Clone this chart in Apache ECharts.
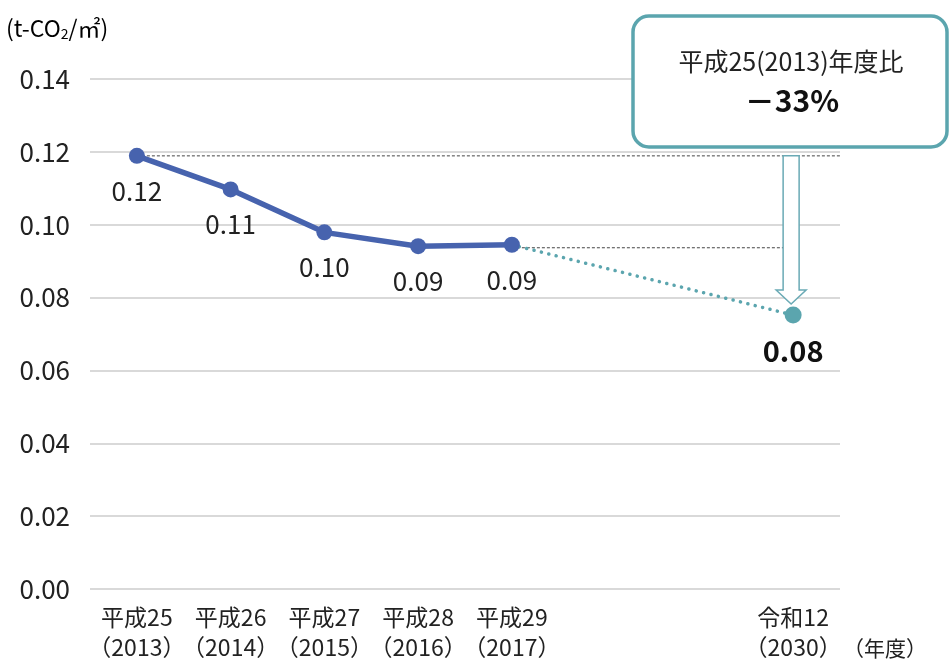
<!DOCTYPE html>
<html>
<head>
<meta charset="utf-8">
<script src="https://cdn.jsdelivr.net/npm/echarts@6/dist/echarts.min.js"></script>
<style>
  html, body { margin: 0; padding: 0; background: #fff; }
  #chart { width: 949px; height: 662px; }
</style>
</head>
<body>
<div id="chart"></div>
<script>
// Fiscal years (era name + western year); two empty slots keep the gap before 2030
const eraNames = ['平成25', '平成26', '平成27', '平成28', '平成29', '', '', '令和12'];
const westernYears = ['2013', '2014', '2015', '2016', '2017', '', '', '2030'];

// Emission intensity per floor area (t-CO2/m²)
const actualValues = [0.1189, 0.1097, 0.0979, 0.0941, 0.0945, null, null, null];
const targetValue = 0.0752;

// Value axis ticks
const yMin = 0, yMax = 0.14, yStep = 0.02;

const noteLine1 = '平成25(2013)年度比';
const noteLine2 = '－33%';
const unitLabel = ['(t-CO', '2', '/㎡)'];
const yearUnit = '（年度）';

const FONT = "'Noto Sans CJK JP', sans-serif";
const BLUE = '#4763ae';
const TEAL = '#5ba5ae';

const categories = eraNames.map((e, i) => e ? e + '\n（' + westernYears[i] + '）' : '');
const lastActual = 4;
const targetIndex = categories.length - 1;
const projection = categories.map((_, i) => {
  if (i === lastActual) return { value: actualValues[i], symbol: 'none' };
  if (i === targetIndex) return targetValue;
  return null;
});

const chart = echarts.init(document.getElementById('chart'));
chart.setOption({
  animation: false,
  textStyle: { fontFamily: FONT },
  grid: { left: 90, right: 109, top: 79, bottom: 71 },
  xAxis: {
    type: 'category',
    data: categories,
    boundaryGap: true,
    axisLine: { show: false },
    axisTick: { show: false },
    axisLabel: {
      interval: 0, margin: 13, color: '#222', fontSize: 23, lineHeight: 30,
      fontFamily: FONT
    }
  },
  yAxis: {
    type: 'value',
    min: yMin, max: yMax, interval: yStep,
    axisLine: { show: false },
    axisTick: { show: false },
    splitLine: { lineStyle: { color: '#d9d9d9', width: 2 } },
    axisLabel: {
      margin: 20, color: '#222', fontSize: 26, fontFamily: FONT,
      formatter: v => v.toFixed(2)
    }
  },
  series: [
    {
      type: 'line',
      data: projection,
      connectNulls: true,
      z: 2,
      lineStyle: { color: TEAL, width: 3.5, type: [0.1, 7.5], cap: 'round' },
      itemStyle: { color: TEAL },
      symbol: 'circle',
      symbolSize: 17,
      label: {
        show: true, position: 'bottom', distance: 13,
        color: '#111', fontSize: 29, fontWeight: 'bold', fontFamily: FONT,
        formatter: p => p.dataIndex === targetIndex ? p.value.toFixed(2) : ''
      }
    },
    {
      type: 'line',
      data: actualValues,
      z: 3,
      lineStyle: { color: BLUE, width: 5.5 },
      itemStyle: { color: BLUE },
      symbol: 'circle',
      symbolSize: 16,
      label: {
        show: true, position: 'bottom', distance: 14,
        color: '#222', fontSize: 26, fontFamily: FONT,
        formatter: p => p.value.toFixed(2)
      }
    }
  ]
});

// Reference lines, reduction arrow and notes, placed from the axis scales
const px = (i, v) => chart.convertToPixel({ gridIndex: 0 }, [i, v]);
const base = px(0, actualValues[0]);
const last = px(lastActual, actualValues[lastActual]);
const target = px(targetIndex, targetValue);
const gridRight = 949 - 109;
const ax = target[0] - 2;
const shaftW = 8, headW = 15, headH = 14;
const tipY = target[1] - 11;
const shaftTop = base[1];

chart.setOption({
  graphic: [
    {
      type: 'line', z: 1,
      shape: { x1: base[0], y1: base[1], x2: gridRight, y2: base[1] },
      style: { stroke: '#444', lineWidth: 1, lineDash: [3, 2] }
    },
    {
      type: 'line', z: 1,
      shape: { x1: last[0], y1: last[1] + 3, x2: ax - shaftW, y2: last[1] + 3 },
      style: { stroke: '#444', lineWidth: 1, lineDash: [3, 2] }
    },
    {
      type: 'polygon', z: 5,
      shape: {
        points: [
          [ax - shaftW, shaftTop], [ax + shaftW, shaftTop],
          [ax + shaftW, tipY - headH], [ax + headW, tipY - headH],
          [ax, tipY], [ax - headW, tipY - headH],
          [ax - shaftW, tipY - headH]
        ]
      },
      style: { fill: '#fff', stroke: '#6aaab5', lineWidth: 1.5 }
    },
    {
      type: 'rect', z: 10,
      shape: { x: 633, y: 16, width: 314, height: 131, r: 16 },
      style: { fill: '#fff', stroke: TEAL, lineWidth: 3.5 }
    },
    {
      type: 'text', z: 11,
      style: {
        x: 791, y: 61, text: noteLine1, align: 'center', verticalAlign: 'middle',
        font: '25px ' + FONT, fill: '#222'
      }
    },
    {
      type: 'text', z: 11,
      style: {
        x: 792, y: 101, text: noteLine2, align: 'center', verticalAlign: 'middle',
        font: 'bold 30px ' + FONT, fill: '#111'
      }
    },
    {
      type: 'text', z: 11,
      style: {
        x: 6, y: 28, verticalAlign: 'middle',
        text: '{a|' + unitLabel[0] + '}{s|' + unitLabel[1] + '}{a|' + unitLabel[2] + '}',
        rich: {
          a: { fontSize: 23, fontFamily: FONT, color: '#222' },
          s: { fontSize: 14, fontFamily: FONT, color: '#222', padding: [11, 0, 0, 0] }
        }
      }
    },
    {
      type: 'text', z: 11,
      style: {
        x: 843, y: 648, text: yearUnit, verticalAlign: 'middle',
        font: '21px ' + FONT, fill: '#222'
      }
    }
  ]
});
</script>
</body>
</html>
